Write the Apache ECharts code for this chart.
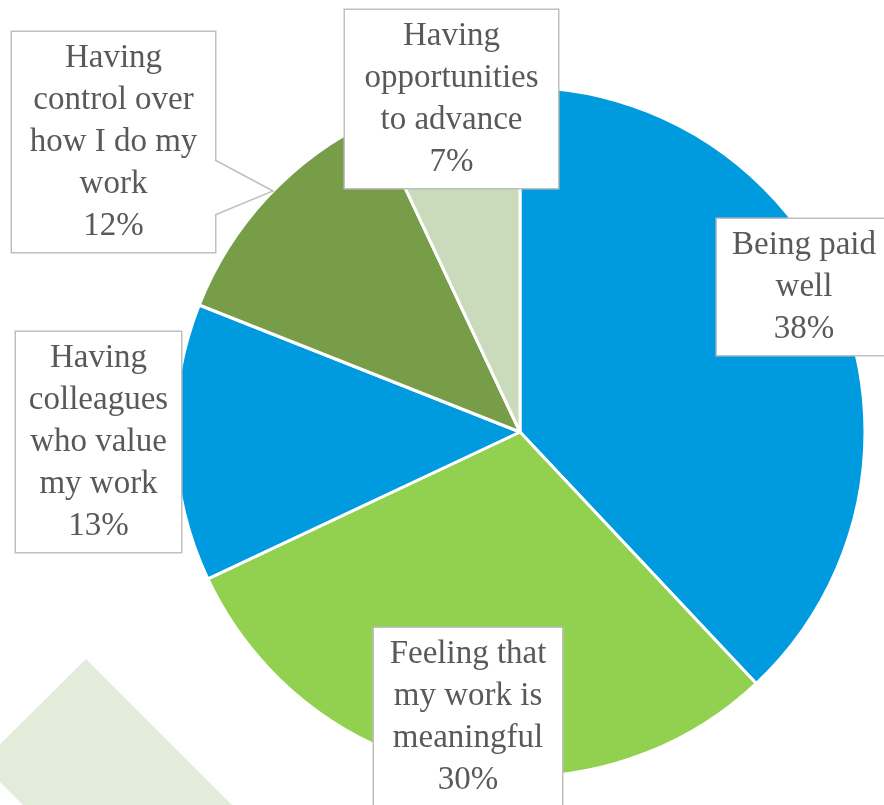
<!DOCTYPE html>
<html>
<head>
<meta charset="utf-8">
<script src="https://cdn.jsdelivr.net/npm/echarts@6/dist/echarts.min.js"></script>
<style>
html,body{margin:0;padding:0;background:#fff;}
#chart{width:884px;height:805px;}
</style>
</head>
<body>
<div id="chart"></div>
<script>
// Data
var categories = [
  'Being paid\nwell',
  'Feeling that\nmy work is\nmeaningful',
  'Having\ncolleagues\nwho value\nmy work',
  'Having\ncontrol over\nhow I do my\nwork',
  'Having\nopportunities\nto advance'
];
var values = [38, 30, 13, 12, 7];
var colors = ['#009ADE', '#92D050', '#009ADE', '#779D48', '#C9DBBA'];

// label box placement (centre) and size
var labelCenters = [[804, 287], [468, 717], [98.5, 442], [113.5, 142], [451.5, 99]];
var labelWidths = [174, 188, 165, 203, 213];

var chart = echarts.init(document.getElementById('chart'), null, {renderer: 'canvas'});

var data = categories.map(function (c, i) {
  return {
    name: c,
    value: values[i],
    itemStyle: {color: colors[i]},
    label: {width: labelWidths[i]}
  };
});

chart.setOption({
  animation: false,
  backgroundColor: '#ffffff',
  graphic: [
    {
      type: 'polygon',
      z: 0,
      shape: {points: [[86, 659], [232, 805], [23, 805], [-19, 763]]},
      style: {fill: '#E3ECDB'}
    },
    {
      type: 'rect',
      z: 100,
      shape: {x: 213, y: 161, width: 4, height: 53},
      style: {fill: '#ffffff'}
    },
    {
      type: 'polyline',
      z: 101,
      shape: {points: [[215, 160], [273, 191], [215, 215]]},
      style: {stroke: '#BFBFBF', lineWidth: 1.5, fill: null}
    }
  ],
  series: [{
    type: 'pie',
    center: [520, 432],
    radius: 345,
    startAngle: 90,
    clockwise: true,
    percentPrecision: 0,
    silent: true,
    emphasis: {disabled: true},
    itemStyle: {borderColor: '#ffffff', borderWidth: 3},
    label: {
      show: true,
      position: 'outside',
      formatter: '{b}\n{d}%',
      fontFamily: 'Liberation Serif',
      fontSize: 33,
      lineHeight: 42,
      color: '#595959',
      align: 'center',
      backgroundColor: '#ffffff',
      borderColor: '#BFBFBF',
      borderWidth: 1.5,
      padding: [8, 0, 2, 0]
    },
    labelLine: {show: false},
    labelLayout: function (params) {
      var p = labelCenters[params.dataIndex];
      return {x: p[0], y: p[1], align: 'center', verticalAlign: 'middle'};
    },
    data: data
  }]
});
</script>
</body>
</html>
